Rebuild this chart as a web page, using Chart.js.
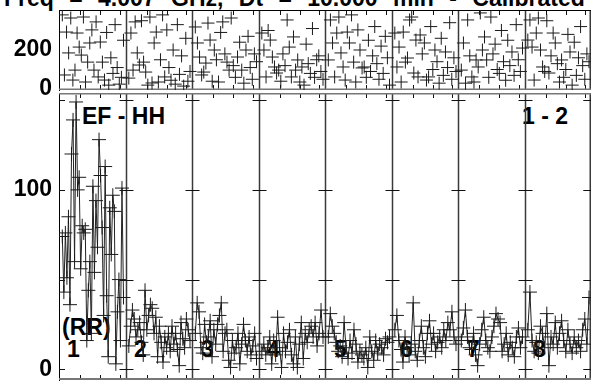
<!DOCTYPE html>
<html><head><meta charset="utf-8">
<script src="https://cdn.jsdelivr.net/npm/chart.js@4"></script>
<style>
html,body{margin:0;padding:0;background:#fff;width:591px;height:381px;overflow:hidden;font-family:"Liberation Sans",Arial,sans-serif}
#wrap{position:relative;width:591px;height:381px;overflow:hidden}
canvas{position:absolute;left:0;z-index:2}
#cTop{top:0;z-index:3}
#cBot{top:91px}
.lbl{position:absolute;font-weight:bold;font-size:23px;color:#000;line-height:1;white-space:nowrap;z-index:1}
</style></head>
<body>
<div id="wrap">
<div class="lbl" id="title" style="left:4px;top:-13px;word-spacing:9px">Freq = 4.007 GHz, Dt = 10.000 min - Calibrated</div>
<div class="lbl" style="left:82px;top:105px">EF - HH</div>
<div class="lbl" style="left:522px;top:105px">1 - 2</div>
<div class="lbl" style="left:62px;top:316px">(RR)</div>
<div class="lbl" style="left:67px;top:338px">1</div>
<div class="lbl" style="left:134px;top:338px">2</div>
<div class="lbl" style="left:201px;top:338px">3</div>
<div class="lbl" style="left:267px;top:338px">4</div>
<div class="lbl" style="left:334px;top:338px">5</div>
<div class="lbl" style="left:400px;top:338px">6</div>
<div class="lbl" style="left:467px;top:338px">7</div>
<div class="lbl" style="left:533px;top:338px">8</div>
<canvas id="cTop" width="591" height="100"></canvas>
<canvas id="cBot" width="591" height="290"></canvas>
</div>
<script>
// ---------- DATA ----------
const segments = ["1","2","3","4","5","6","7","8"];
const topTicks = [0, 200];
const botTicks = [0, 100];

// Top panel (scatter of crosses), one array per segment
const top1 = [380, 72, 292, 185, 364, 46, 97, 287, 215, 174, 369, 36, 138, 236, 303, 97, 344, 62, 241, 138, 46, 290, 20, 160, 80, 330, 110, 25, 60, 250];
const top2 = [56, 287, 97, 344, 185, 123, 350, 138, 87, 20, 369, 31, 236, 292, 36, 150, 380, 62, 303, 110, 45, 200, 25, 330, 75, 170, 15, 260, 40, 90];
const top3 = [318, 236, 164, 72, 87, 133, 338, 251, 40, 200, 150, 36, 290, 344, 180, 138, 97, 364, 120, 60, 164, 240, 97, 30, 200, 270, 110, 50, 180, 140];
const top4 = [287, 200, 62, 300, 251, 164, 113, 82, 97, 40, 180, 120, 354, 215, 62, 267, 97, 149, 36, 113, 20, 230, 130, 80, 310, 60, 150, 170, 90, 50];
const top5 = [149, 354, 236, 62, 287, 369, 185, 113, 46, 292, 236, 380, 138, 36, 303, 200, 108, 113, 60, 250, 90, 170, 320, 130, 50, 220, 80, 270, 160, 20];
const top6 = [287, 113, 215, 36, 292, 138, 159, 354, 369, 82, 251, 62, 277, 180, 236, 46, 62, 320, 100, 200, 140, 30, 260, 70, 190, 110, 340, 50, 160, 90];
const top7 = [97, 236, 30, 354, 170, 62, 36, 149, 113, 390, 200, 267, 149, 60, 369, 180, 230, 100, 80, 300, 140, 45, 250, 120, 190, 70, 330, 150, 90, 210];
const top8 = [251, 354, 215, 46, 287, 364, 200, 113, 90, 350, 82, 170, 287, 236, 130, 36, 149, 60, 100, 280, 190, 20, 240, 70, 160, 320, 120, 50, 180, 140];

// Bottom panel (line + crosses), one array per segment
const bot1 = [74, 43, 76, 51, 85, 36, 120, 139, 60, 149, 100, 107, 56, 80, 76, 78, 16, 44, 60, 20, 102, 54, 94, 68, 128, 108, 79, 30, 113, 41, 7, 90, 64, 97, 88, 3, 32, 50, 16, 101, 40];
const bot2 = [13, 24, 33, 28, 18, 22, 26, 15, 8, 44, 22, 30, 36, 34, 20, 29, 7, 24, 15, 4, 18, 12, 20, 10, 24, 14, 20, 11, 2, 26, 17, 12, 28, 22, 16];
const bot3 = [20, 37, 32, 12, 9, 25, 15, 18, 27, 7, 22, 14, 25, 30, 37, 10, 20, 22, 5, 1, 16, 9, 12, 20, 3, 14, 25, 16, 10, 18, 8, 13, 20, 6];
const bot4 = [10, 14, 8, 12, 18, 3, 16, 8, 29, 12, 1, 20, 10, 15, 22, 8, 3, 18, 1, 14, 26, 6, 20, 15, 22, 24, 18, 26, 13, 20, 33, 18];
const bot5 = [18, 31, 24, 20, 15, 10, 13, 7, 26, 12, 6, 16, 9, 22, 14, 4, 10, 8, 6, 12, 1, 18, 10, 5, 16, 9, 14, 12, 8, 17, 15, 18];
const bot6 = [22, 30, 16, 11, 4, 18, 12, 8, 14, 37, 10, 5, 16, 24, 12, 7, 20, 27, 14, 20, 10, 15, 18, 12, 22, 16, 26, 22, 32, 18, 14];
const bot7 = [16, 23, 33, 18, 12, 11, 20, 8, 2, 14, 22, 29, 16, 12, 10, 18, 24, 31, 28, 26, 10, 14, 20, 8, 15, 12, 7, 18, 23, 12, 18];
const bot8 = [22, 43, 16, 10, 15, 9, 24, 20, 12, 31, 2, 18, 14, 26, 12, 20, 27, 16, 10, 22, 14, 9, 18, 12, 16, 10, 22, 28, 14, 40];

const topSeries = [top1, top2, top3, top4, top5, top6, top7, top8];
const botSeries = [bot1, bot2, bot3, bot4, bot5, bot6, bot7, bot8];

// ---------- LAYOUT / STYLE ----------
const FONT = {family: '"Liberation Sans", Arial, sans-serif', size: 23, weight: 'bold'};
const MINOR = [0.316, 0.617, 0.917];
const INK = '#1a1a1a';

// place sample i of segment s inside its column
function toPoints(vals, s) {
  const n = vals.length;
  return vals.map((v, i) => ({x: s + 0.05 + 0.92 * i / (n - 1), y: v}));
}

const panelPlugin = {
  id: 'panel',
  beforeDatasetsDraw(chart, args, o) {
    const {ctx, chartArea: a, scales: {x, y}} = chart;
    ctx.save();
    // column dividers
    for (let s = 1; s <= segments.length; s++) {
      const px = Math.min(Math.round(x.getPixelForValue(s)) + 0.5, a.right - 0.75);
      ctx.strokeStyle = '#3a3a3a';
      ctx.lineWidth = 1.5;
      ctx.beginPath(); ctx.moveTo(px, a.top); ctx.lineTo(px, a.bottom); ctx.stroke();
      ctx.lineWidth = 1;
      ctx.strokeStyle = '#111';
      for (const v of o.divTicks) {
        const py = Math.round(y.getPixelForValue(v)) + 0.5;
        ctx.beginPath(); ctx.moveTo(px - 7, py); ctx.lineTo(px + 7, py); ctx.stroke();
      }
    }
    // left axis inward ticks
    ctx.lineWidth = 1; ctx.strokeStyle = '#111';
    for (const v of o.divTicks) {
      const py = Math.round(y.getPixelForValue(v)) + 0.5;
      ctx.beginPath(); ctx.moveTo(a.left, py); ctx.lineTo(a.left + 6, py); ctx.stroke();
    }
    // minor ticks top & bottom
    for (let s = 0; s < segments.length; s++) {
      for (const f of MINOR) {
        const px = Math.round(x.getPixelForValue(s + f)) + 0.5;
        ctx.beginPath(); ctx.moveTo(px, a.bottom); ctx.lineTo(px, a.bottom - 5); ctx.stroke();
        ctx.beginPath(); ctx.moveTo(px, a.top); ctx.lineTo(px, a.top + 5); ctx.stroke();
      }
    }
    // frame lines
    ctx.strokeStyle = o.topColor; ctx.lineWidth = o.topWidth;
    ctx.beginPath(); ctx.moveTo(a.left, a.top + o.topWidth / 2); ctx.lineTo(a.right, a.top + o.topWidth / 2); ctx.stroke();
    ctx.strokeStyle = o.botColor; ctx.lineWidth = o.botWidth;
    ctx.beginPath(); ctx.moveTo(a.left, a.bottom - o.botWidth / 2); ctx.lineTo(a.right, a.bottom - o.botWidth / 2); ctx.stroke();
    ctx.restore();
  }
};

function yAxis(min, max, tickVals, labelVals) {
  return {
    min, max,
    afterBuildTicks: ax => { ax.ticks = tickVals.map(v => ({value: v})); },
    afterFit: ax => { ax.width = 59; ax.paddingTop = 0; ax.paddingBottom = 0; },
    ticks: {
      callback: v => labelVals.includes(v) ? String(v) : '',
      color: '#000', font: FONT, padding: 7, autoSkip: false
    },
    grid: {display: false, drawTicks: false},
    border: {display: true, color: '#000', width: 1}
  };
}

const common = {
  responsive: false, animation: false, devicePixelRatio: 1,
  plugins: {legend: {display: false}, tooltip: {enabled: false}},
};

new Chart(document.getElementById('cTop'), {
  type: 'scatter',
  data: {
    datasets: topSeries.map((vals, s) => ({
      label: 'top ' + segments[s],
      data: toPoints(vals, s),
      showLine: false,
      pointStyle: 'cross', pointRadius: 6.5, pointBorderWidth: 1,
      pointBorderColor: INK, pointBackgroundColor: INK
    }))
  },
  options: Object.assign({}, common, {
    layout: {autoPadding: false, padding: {top: 10, bottom: 10, left: 0, right: 0}},
    scales: {
      x: {type: 'linear', min: 0, max: 8, display: false},
      y: yAxis(-5, 405, [0, 100, 200, 300, 400], topTicks)
    },
    plugins: Object.assign({}, common.plugins, {
      panel: {divTicks: [], topColor: '#000', topWidth: 1, botColor: '#777', botWidth: 1.5}
    })
  }),
  plugins: [panelPlugin]
});

new Chart(document.getElementById('cBot'), {
  type: 'line',
  data: {
    datasets: botSeries.map((vals, s) => ({
      label: 'bottom ' + segments[s],
      data: toPoints(vals, s),
      borderColor: '#222', borderWidth: 1, tension: 0,
      pointStyle: 'cross', pointRadius: 7, pointBorderWidth: 1,
      pointBorderColor: INK, pointBackgroundColor: INK, fill: false
    }))
  },
  options: Object.assign({}, common, {
    layout: {autoPadding: false, padding: {top: 2, bottom: 1, left: 0, right: 0}},
    scales: {
      x: {type: 'linear', min: 0, max: 8, display: false},
      y: yAxis(-6, 154, [0, 50, 100, 150], botTicks)
    },
    plugins: Object.assign({}, common.plugins, {
      panel: {divTicks: [0, 50, 100, 150], topColor: '#777', topWidth: 1.5, botColor: '#777', botWidth: 2}
    })
  }),
  plugins: [panelPlugin]
});
</script>
</body></html>
